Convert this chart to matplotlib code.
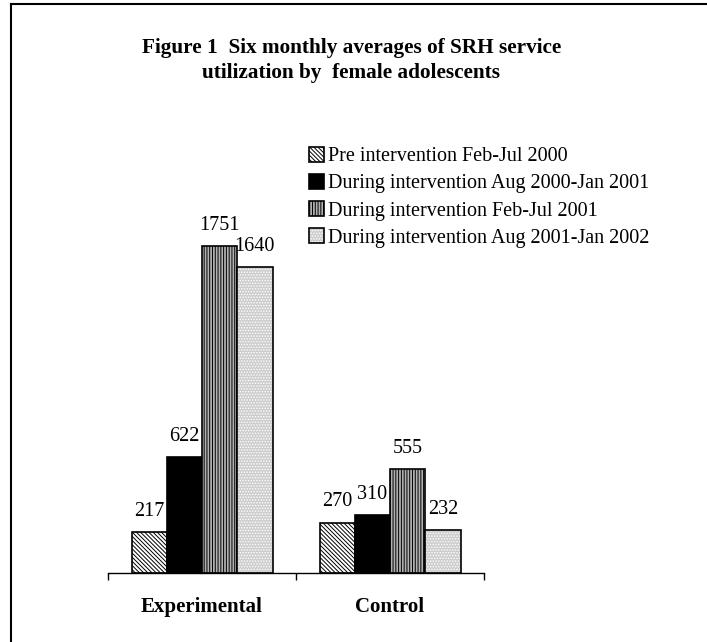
import matplotlib
matplotlib.use("Agg")
import matplotlib.pyplot as plt
from matplotlib.lines import Line2D
from matplotlib.legend_handler import HandlerTuple
import numpy as np

# data
groups = ["Experimental", "Control"]
series_names = [
    "Pre intervention Feb-Jul 2000",
    "During intervention Aug 2000-Jan 2001",
    "During intervention Feb-Jul 2001",
    "During intervention Aug 2001-Jan 2002",
]
pre_feb_jul_2000 = [217, 270]
aug2000_jan2001 = [622, 310]
feb_jul_2001 = [1751, 555]
aug2001_jan2002 = [1640, 232]

plt.rcParams["font.family"] = ["Liberation Serif", "DejaVu Serif"]
plt.rcParams["hatch.linewidth"] = 0.7

fig = plt.figure(figsize=(7.07, 6.42), dpi=100)
ax = fig.add_axes([0.1528, 0.1075, 0.5318, 0.5813])

x = np.arange(len(groups))
w = 0.1875
offsets = np.array([-1.5, -0.5, 0.5, 1.5]) * w

# bars
b0 = ax.bar(x + offsets[0], pre_feb_jul_2000, w, facecolor="white",
            edgecolor="black", hatch="\\" * 8, linewidth=1.2)
b1 = ax.bar(x + offsets[1], aug2000_jan2001, w, facecolor="black",
            edgecolor="black", linewidth=1.2)
b2 = ax.bar(x + offsets[2], feb_jul_2001, w, facecolor="#b0b0b0",
            edgecolor="black", hatch="|" * 6, linewidth=1.2)
# dotted light grey: fill layer with white dots, then black outline
b3f = ax.bar(x + offsets[3], aug2001_jan2002, w, facecolor="#cdcdcd",
             edgecolor="white", hatch="......", linewidth=0)
b3e = ax.bar(x + offsets[3], aug2001_jan2002, w, fill=False,
             edgecolor="black", linewidth=1.2)

for bars, vals in [(b0, pre_feb_jul_2000), (b1, aug2000_jan2001),
                   (b2, feb_jul_2001), (b3e, aug2001_jan2002)]:
    ax.bar_label(bars, labels=[str(v) for v in vals], padding=8, fontsize=14.5)

ax.set_xlim(-0.5, 1.5)
ax.set_ylim(0, 2000)

# category labels, ticks at the group boundaries
ax.set_xticks(x)
ax.set_xticklabels(groups, fontsize=15, fontweight="bold")
ax.tick_params(axis="x", which="major", length=0, pad=17)
ax.set_xticks([-0.5, 0.5, 1.5], minor=True)
ax.tick_params(axis="x", which="minor", length=5, width=1.0, direction="out")
ax.set_yticks([])
for side in ["left", "right", "top"]:
    ax.spines[side].set_visible(False)
ax.spines["bottom"].set_linewidth(1.0)

handles = [b0, b1, b2, (b3f, b3e)]
fig.legend(handles, series_names, loc="upper left",
           bbox_to_anchor=(0.437, 0.771), frameon=False, fontsize=14.5,
           handlelength=0.75, handleheight=0.75, handletextpad=0.2,
           labelspacing=0.38, borderpad=0, borderaxespad=0,
           handler_map={tuple: HandlerTuple(ndivide=1, pad=0)})

# title in two lines
fig.text(0.497, 1 - 53 / 642, "Figure 1  Six monthly averages of SRH service",
         ha="center", va="baseline", fontsize=15.3, fontweight="bold")
fig.text(0.497, 1 - 78 / 642, "utilization by  female adolescents",
         ha="center", va="baseline", fontsize=15.3, fontweight="bold")

# frame lines (top and left only are inside the picture)
fig.add_artist(Line2D([11 / 707, 1], [1 - 4 / 642, 1 - 4 / 642],
                      transform=fig.transFigure, color="black", linewidth=1.5))
fig.add_artist(Line2D([11 / 707, 11 / 707], [0, 1 - 4 / 642],
                      transform=fig.transFigure, color="black", linewidth=1.5))

fig.savefig("out.png", dpi=100)
